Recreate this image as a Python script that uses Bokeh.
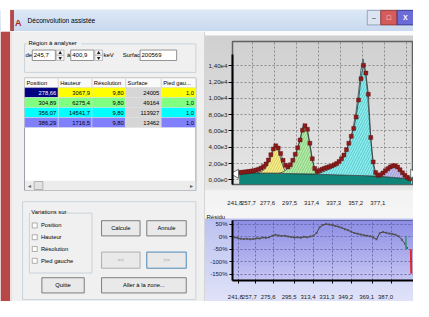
import numpy as np
from bokeh.plotting import figure
from bokeh.layouts import column, row
from bokeh.models import Range1d, FixedTicker, LinearAxis, Grid
from bokeh.core.properties import value
from bokeh.embed import file_html
from bokeh.resources import INLINE

# ---------------- data ----------------
region_start = 245.7
region_end = 400.9
surface_total = 200569

peak_position = [278.66, 304.89, 356.07, 386.29]
peak_height = [3067.9, 6275.4, 14541.7, 1716.5]
peak_resolution = [9.80, 9.80, 9.80, 9.80]
peak_surface = [24005, 49164, 113927, 13462]
peak_left_foot = [1.0, 1.0, 1.0, 1.0]

table_columns = ["Position", "Hauteur", "Résolution", "Surface", "Pied gau..."]
variation_items = ["Position", "Hauteur", "Résolution", "Pied gauche"]

spec_energy = [245.7, 247.9, 250.1, 252.3, 254.5, 256.7, 258.9, 261.1, 263.3, 265.5,
               267.7, 269.9, 272.1, 274.3, 276.5, 278.7, 280.9, 283.1, 285.3, 287.5,
               289.7, 291.9, 294.1, 296.3, 298.5, 300.7, 302.9, 305.1, 307.3, 309.5,
               311.7, 313.9, 316.1, 318.3, 320.5, 322.7, 324.9, 327.1, 329.3, 331.5,
               333.7, 335.9, 338.1, 340.3, 342.5, 344.7, 346.9, 349.1, 351.3, 353.5,
               355.7, 357.9, 360.1, 362.3, 364.5, 366.7, 368.9, 371.1, 373.3, 375.5,
               377.7, 379.9, 382.1, 384.3, 386.5, 388.7, 390.9, 393.1, 395.3, 397.5, 399.7]
spec_counts = [900, 930, 960, 1000, 1040, 1080, 1140, 1220, 1320, 1450,
               1650, 1950, 2450, 3100, 3800, 4180, 3900, 3250, 2400, 1800,
               1600, 1850, 2400, 3150, 3950, 4900, 6100, 6650, 6200, 4500,
               2600, 1400, 1050, 1150, 1300, 1420, 1530, 1620, 1720, 1850,
               2000, 2250, 2600, 3050, 3700, 4500, 5350, 6300, 7700, 9800,
               12400, 14050, 13100, 10500, 5200, 2200, 900, 560, 620, 850,
               1120, 1380, 1600, 1730, 1750, 1580, 1250, 880, 560, 320, 150]

bg_energy = [245.7, 270.0, 300.0, 330.0, 350.0, 370.0, 385.0, 400.9]
bg_counts = [900, 830, 750, 660, 590, 470, 330, 90]

peak1_energy = [262, 266, 269, 272, 275, 277.5, 279, 281, 283, 285, 287, 289.5]
peak1_counts = [850, 1050, 1350, 2050, 3150, 3950, 4050, 3650, 2750, 1750, 1150, 830]
peak2_energy = [282, 286, 289, 292, 295, 298, 300.5, 302.5, 304, 305.5, 307.5, 309.5, 311.5, 313.5, 316]
peak2_counts = [800, 1030, 1330, 1780, 2480, 3680, 4880, 6180, 6880, 6680, 5780, 4180, 2580, 1380, 730]
peak3_energy = [316, 322, 328, 333, 338, 342, 345, 348, 351, 353.5, 355.5, 357.5, 359.5,
                361.5, 363.5, 365.5, 367.5, 369.5]
peak3_counts = [690, 1020, 1360, 1750, 2430, 3420, 4500, 6000, 8180, 10770, 13360, 14850, 13540,
                10730, 6720, 3310, 1300, 470]
peak4_energy = [372, 375, 378, 381, 383.5, 385.7, 388, 390.5, 393, 396, 399.5]
peak4_counts = [450, 680, 950, 1270, 1590, 1740, 1590, 1200, 770, 380, 140]

spec_y_ticks = [0, 2000, 4000, 6000, 8000, 10000, 12000, 14000]
spec_x_labels = [241.8, 257.7, 277.6, 297.5, 317.4, 337.3, 357.2, 377.1]
spec_x_grid = [257.7, 277.6, 297.5, 317.4, 337.3, 357.2, 377.1, 397.0]

res_energy = [238, 241, 244, 247, 250, 253, 256, 259, 262, 265, 268, 271, 274, 277, 280,
              283, 286, 289, 292, 295, 298, 301, 304, 307, 310, 313, 316, 319, 322, 325,
              328, 331, 334, 337, 340, 343, 346, 349, 352, 355, 358, 361, 364, 367, 370,
              373, 376, 379, 382, 385, 388, 391, 394, 397, 400, 402]
res_percent = [-2, -5, -8, -9, -8, -10, -9, -6, -7, -3, -5, -2, 4, 8, 5,
               3, 4, 1, -1, -3, -2, -4, 0, -2, 1, 4, 15, 38, 47, 51,
               49, 47, 43, 40, 36, 30, 26, 20, 15, 12, 9, 6, 4, 2, -3,
               -10, 14, 19, 16, 13, 11, 8, 2, -12, -28, -45]
res_tail_energy = [405.6, 406.0]
res_tail_percent = [-50, -148]
res_marker_percent = [4, -52]
res_y_ticks = [50, 0, -50, -100, -150]
res_x_labels = [241.8, 257.7, 275.6, 295.5, 313.4, 331.3, 349.2, 369.1, 387.0]

# ---------------- helpers ----------------
UI_FONT = "Liberation Sans"


def fr(v, nd):
    return f"{v:.{nd}f}".replace(".", ",")


def sci(v):
    m, e = f"{v:.2e}".split("e")
    return m.replace(".", ",") + "e" + str(int(e))


def label_positions(vals, shift, x0, lo_pad, min_gap):
    # labels sit to the left of their grid line, without leaving the chart or overlapping
    out = []
    for v in vals:
        p = max(v - shift, x0 + lo_pad)
        if out:
            p = max(p, out[-1] + min_gap)
        out.append(p)
    return out


def vgrad(top_hex, bottom_hex, n=48):
    t = np.array([int(top_hex[i:i + 2], 16) for i in (1, 3, 5)], float)
    b = np.array([int(bottom_hex[i:i + 2], 16) for i in (1, 3, 5)], float)
    img = np.empty((n, 1), dtype=np.uint32)
    v = img.view(dtype=np.uint8).reshape((n, 1, 4))
    for i in range(n):
        f = i / (n - 1)
        c = b + (t - b) * f
        v[i, 0, 0:3] = c.astype(np.uint8)
        v[i, 0, 3] = 255
    return img


def box(p, x0, y0, x1, y1, fill, line="#a0a0a0", lw=1.0):
    p.quad(left=[x0], right=[x1], top=[y0], bottom=[y1], fill_color=fill,
           line_color=line, line_width=lw)


def txt(p, x, y, s, size="6px", align="left", color="#000000", style="normal"):
    p.text(x=[x], y=[y], text=[s], text_font=value(UI_FONT), text_font_size=size,
           text_align=align, text_baseline="middle", text_color=color,
           text_font_style=style)


def vline(p, x, y0, y1, color, lw=1.0):
    p.line(x=[x, x], y=[y0, y1], line_color=color, line_width=lw)


def bare(p):
    p.xgrid.visible = False
    p.ygrid.visible = False


# ---------------- title bar ----------------
title_fig = figure(width=413, height=31, x_range=Range1d(0, 429), y_range=Range1d(33, 0),
                   output_backend="svg", toolbar_location=None, min_border=0,
                   x_axis_location=None, y_axis_location=None, outline_line_color=None,
                   background_fill_alpha=0, border_fill_alpha=0,
                   styles={"background": "linear-gradient(to bottom, #ffffff 0px, #ffffff 9px, #dde8f6 10px, #c8d9ef 31px)"})
bare(title_fig)
box(title_fig, 0, 0, 10, 33, "#ffffff", None)
box(title_fig, 10, 10, 14, 33, "#b84848", None)
txt(title_fig, 15, 24, "A", size="9px", color="#b02020", style="bold")
txt(title_fig, 28, 21.5, "Déconvolution assistée", size="6.6px")
box(title_fig, 381, 10.5, 395, 26, "#dbe4f0", "#8796ad", 0.8)
box(title_fig, 395, 10.5, 412, 26, "#d65c5c", "#8a3030", 0.8)
box(title_fig, 412, 10.5, 429, 26, "#6c6cd8", "#303080", 0.8)
txt(title_fig, 388, 18.5, "–", size="7px", align="center", color="#303030")
txt(title_fig, 403.5, 18.5, "□", size="7px", align="center", color="#ffffff")
txt(title_fig, 420.5, 18.5, "X", size="7px", align="center", color="#ffffff", style="bold")

# ---------------- left dialog panel ----------------
PANEL = "#f0f0f0"
left = figure(width=205, height=270, x_range=Range1d(0, 213), y_range=Range1d(317, 33),
              output_backend="svg", toolbar_location=None, min_border=0,
              x_axis_location=None, y_axis_location=None, outline_line_color=None,
              background_fill_color=PANEL, border_fill_color=PANEL)
bare(left)
box(left, 0, 33, 10, 317, "#b84848", None)
box(left, 10, 33, 12, 317, "#f2dede", None)
vline(left, 212.5, 33, 317, "#b8b8b8", 1)

# group "Région à analyser"
box(left, 25, 46, 203, 76, None, "#c9d3da", 1)
box(left, 28, 42, 84, 50, PANEL, None)
txt(left, 29, 45.5, "Région à analyser")
txt(left, 26, 58, "de")
for (x0, x1, sval) in [(33, 57, fr(region_start, 1)), (73, 97, fr(region_end, 1))]:
    box(left, x0, 52.5, x1, 63.5, "#ffffff", "#7a7a7a", 0.8)
    txt(left, x0 + 1.5, 58, sval)
    box(left, x1 + 1, 52.5, x1 + 9, 58, "#f4f4f4", "#a0a0a0", 0.6)
    box(left, x1 + 1, 58, x1 + 9, 63.5, "#f4f4f4", "#a0a0a0", 0.6)
    left.scatter(x=[x1 + 5, x1 + 5], y=[55.5, 60.8], marker="triangle", size=3.5,
                 angle=[0, np.pi], fill_color="#202020", line_color=None)
txt(left, 69, 58, "à")
txt(left, 107, 58, "keV")
txt(left, 127, 58, "Surface")
box(left, 145, 52.5, 183, 63.5, "#ffffff", "#7a7a7a", 0.8)
txt(left, 146.5, 58, str(surface_total))

# table
col_edges = [25, 60, 95, 130, 167, 203]
row_edges = [92, 102.5, 113, 123.5, 134]
row_colors = ["#ffff00", "#80ff80", "#00ffff", "#8080ff"]
box(left, 25, 82, 203, 200, "#ffffff", "#828790", 0.8)
box(left, 25, 82, 203, 92, "#fafafa", "#d0d0d0", 0.6)
for j, name in enumerate(table_columns):
    txt(left, col_edges[j] + 2, 87, name, size="5.8px")
    if j > 0:
        vline(left, col_edges[j], 82.5, 91.5, "#c8c8c8", 0.8)
for i in range(4):
    cells = [fr(peak_position[i], 2), fr(peak_height[i], 1), fr(peak_resolution[i], 2),
             str(peak_surface[i]), fr(peak_left_foot[i], 1)]
    for j, s in enumerate(cells):
        fill = row_colors[i]
        color = "#000000"
        if j == 3:
            fill = "#d6d6d6"
        if i == 0 and j == 0:
            fill = "#000080"
            color = "#ffffff"
        box(left, col_edges[j], row_edges[i], col_edges[j + 1], row_edges[i + 1], fill, "#e0e0e0", 0.5)
        txt(left, col_edges[j + 1] - 2, (row_edges[i] + row_edges[i + 1]) / 2, s,
            size="5.8px", align="right", color=color)
# horizontal scrollbar
box(left, 25.5, 190, 202.5, 200, "#ececec", None)
txt(left, 30, 195, "◂", size="6px", align="center", color="#606060")
box(left, 35, 190.8, 44, 199.2, "#e2e2e2", "#9a9a9a", 0.7)
txt(left, 198, 195, "▸", size="6px", align="center", color="#606060")

# bottom group
box(left, 23, 212, 203, 315, None, "#c9d3da", 1)
box(left, 30, 224, 95, 287, None, "#c9d3da", 1)
box(left, 31, 219, 64, 227, PANEL, None)
txt(left, 32, 223, "Variations sur", size="5.8px")
for k, name in enumerate(variation_items):
    yc = 237 + k * 12.4
    box(left, 33, yc - 2.6, 38.2, yc + 2.6, "#ffffff", "#8f8f8f", 0.7)
    txt(left, 42, yc, name, size="5.8px")

buttons = [(105, 232, 145, 248, "Calcule", "#000000", "#707070"),
           (152, 232, 193, 248, "Annule", "#000000", "#707070"),
           (105, 265, 145, 282, "<<", "#9a9a9a", "#a8a8a8"),
           (152, 265, 193, 282, ">>", "#9a9a9a", "#3c7fb1"),
           (43, 292, 87, 308, "Quitte", "#000000", "#707070"),
           (105, 292, 193, 308, "Aller à la zone...", "#000000", "#707070")]
for (x0, y0, x1, y1, s, tc, bc) in buttons:
    box(left, x0, y0, x1, y1, "#e9e9e9", bc, 0.9)
    txt(left, (x0 + x1) / 2, (y0 + y1) / 2, s, size="5.8px", align="center", color=tc)

# ---------------- spectrum chart ----------------
SPEC_X0, SPEC_X1 = 239.65, 403.1
SPEC_Y0, SPEC_Y1 = -560, 16970
spec = figure(width=208, height=176, x_range=Range1d(SPEC_X0, SPEC_X1),
              y_range=Range1d(SPEC_Y0, SPEC_Y1), output_backend="svg", toolbar_location=None,
              x_axis_location=None, y_axis_location=None,
              min_border_left=27, min_border_right=0, min_border_top=10, min_border_bottom=18,
              background_fill_alpha=0, border_fill_alpha=0,
              outline_line_color="#606060", outline_line_width=1.5,
              styles={"background": "linear-gradient(to bottom, #fbfbfb 0px, #fbfbfb 4px, #d0d0d0 5px, #e6e6e6 158px, #f3f3f3 160px, #f3f3f3 176px)"})
bare(spec)
spec.add_layout(Grid(dimension=0, ticker=FixedTicker(ticks=spec_x_grid), grid_line_color="#7a7a7a",
                     grid_line_dash="2 2", grid_line_width=0.8))
spec.add_layout(Grid(dimension=1, ticker=FixedTicker(ticks=spec_y_ticks), grid_line_color="#7a7a7a",
                     grid_line_dash="2 2", grid_line_width=0.8))

spec.varea(x=bg_energy, y1=[SPEC_Y0] * len(bg_energy), y2=bg_counts, fill_color="#0f8478")
spec.line(bg_energy, bg_counts, line_color="#1b3a36", line_width=1)
peaks = [(peak1_energy, peak1_counts, "#f7f08c", "#c0b040"),
         (peak2_energy, peak2_counts, "#b4eeaa", "#6cb060"),
         (peak3_energy, peak3_counts, "#8cf0f0", "#40a8b0"),
         (peak4_energy, peak4_counts, "#c4c0ec", "#8080c0")]
for (e, c, fc, hc) in peaks:
    spec.patch(e, c, fill_color=fc, line_color="#3c5050", line_width=0.8,
               hatch_pattern="/", hatch_color=hc, hatch_scale=5, hatch_weight=0.6)
spec.line(spec_energy, spec_counts, line_color="#3a3a3a", line_width=0.8)
spec.scatter(spec_energy, spec_counts, marker="square", size=4, fill_color="#8c1c1c",
             line_color="#5a0c0c", line_width=0.4)
mark_y = SPEC_Y0 + 0.075 * (SPEC_Y1 - SPEC_Y0)
spec.scatter([region_start - 3.0, region_end + 2.0], [mark_y, mark_y], marker="triangle",
             size=9, angle=[np.pi / 2, -np.pi / 2], fill_color="#ffffff", line_color="#505050",
             line_width=0.8)

yax = LinearAxis(ticker=FixedTicker(ticks=spec_y_ticks),
                 major_label_overrides={v: sci(v) for v in spec_y_ticks},
                 major_tick_out=4, major_tick_in=0, minor_tick_line_color=None,
                 major_tick_line_color="#000000", axis_line_color="#000000", axis_line_width=2,
                 major_label_standoff=1, major_label_text_font=UI_FONT,
                 major_label_text_font_size="6.2px", major_label_text_color="#202020",
                 bounds=(SPEC_Y0, 15400))
spec.add_layout(yax, "left")
top_pos = label_positions(spec_x_labels, 6.3, SPEC_X0, 2.15, 12.2)
xax = LinearAxis(ticker=FixedTicker(ticks=top_pos),
                 major_label_overrides={p: fr(v, 1) for p, v in zip(top_pos, spec_x_labels)},
                 axis_line_color=None, major_tick_line_color=None, minor_tick_line_color=None,
                 major_label_standoff=10, major_label_text_font=UI_FONT,
                 major_label_text_font_size="6px", major_label_text_color="#202020")
spec.add_layout(xax, "below")

# ---------------- residual chart ----------------
RES_X0, RES_X1 = 236.2, 408.1
RES_Y0, RES_Y1 = -175, 65
res = figure(width=208, height=94, x_range=Range1d(RES_X0, RES_X1),
             y_range=Range1d(RES_Y0, RES_Y1), output_backend="svg", toolbar_location=None,
             x_axis_location=None, y_axis_location=None,
             min_border_left=27, min_border_right=0, min_border_top=13, min_border_bottom=20,
             background_fill_alpha=0, border_fill_alpha=0,
             outline_line_color="#4a4a7a", outline_line_width=1,
             styles={"background": "linear-gradient(to bottom, #f5f5f5 0px, #f5f5f5 11px, #bcc2f0 12px, #dfe2f8 94px)"})
bare(res)
res.title.text = "Résidu"
res.title.text_font = UI_FONT
res.title.text_font_size = "6px"
res.title.text_font_style = "normal"
res.title.text_color = "#202020"
res.title.align = "left"
res.title.offset = -26
res.title.standoff = 2
res.image_rgba(image=[vgrad("#8e8ee6", "#c6c6f3")], x=RES_X0, y=RES_Y0,
               dw=RES_X1 - RES_X0, dh=RES_Y1 - RES_Y0, level="image")
res.add_layout(Grid(dimension=0, ticker=FixedTicker(ticks=res_x_labels), grid_line_color="#5a5a9a",
                    grid_line_dash="2 2", grid_line_width=0.8))
res.add_layout(Grid(dimension=1, ticker=FixedTicker(ticks=res_y_ticks), grid_line_color="#5a5a9a",
                    grid_line_dash="2 2", grid_line_width=0.8))
res.line(res_energy, res_percent, line_color="#444444", line_width=1)
res.scatter(res_energy, res_percent, marker="square", size=1.8, fill_color="#555555", line_color=None)
res.line(res_tail_energy, res_tail_percent, line_color="#e02828", line_width=2)
res.line([region_end, region_end], res_marker_percent, line_color="#2a9a7a", line_width=1.5)

ryax = LinearAxis(ticker=FixedTicker(ticks=res_y_ticks),
                  major_label_overrides={v: f"{v}%" for v in res_y_ticks},
                  major_tick_out=3, major_tick_in=0, minor_tick_line_color=None,
                  major_tick_line_color="#000000", axis_line_color="#000000", axis_line_width=2,
                  major_label_standoff=2, major_label_text_font=UI_FONT,
                  major_label_text_font_size="6px", major_label_text_color="#15153a")
res.add_layout(ryax, "left")
rxa = LinearAxis(ticker=FixedTicker(ticks=res_x_labels),
                 major_label_overrides={v: "" for v in res_x_labels},
                 major_tick_out=3, major_tick_in=0, minor_tick_line_color=None,
                 major_tick_line_color="#000000", axis_line_color="#000000", axis_line_width=2,
                 major_label_standoff=0, major_label_text_font_size="1px")
res.add_layout(rxa, "below")
res_pos = label_positions(res_x_labels, 5.5, RES_X0, 2.7, 12.0)
rxb = LinearAxis(ticker=FixedTicker(ticks=res_pos),
                 major_label_overrides={p: fr(v, 1) for p, v in zip(res_pos, res_x_labels)},
                 axis_line_color=None, major_tick_line_color=None, minor_tick_line_color=None,
                 major_label_standoff=5, major_label_text_font=UI_FONT,
                 major_label_text_font_size="6px", major_label_text_color="#202020")
res.add_layout(rxb, "below")

layout = column(title_fig, row(left, column(spec, res)))
open("out.html", "w").write(file_html(layout, INLINE))
